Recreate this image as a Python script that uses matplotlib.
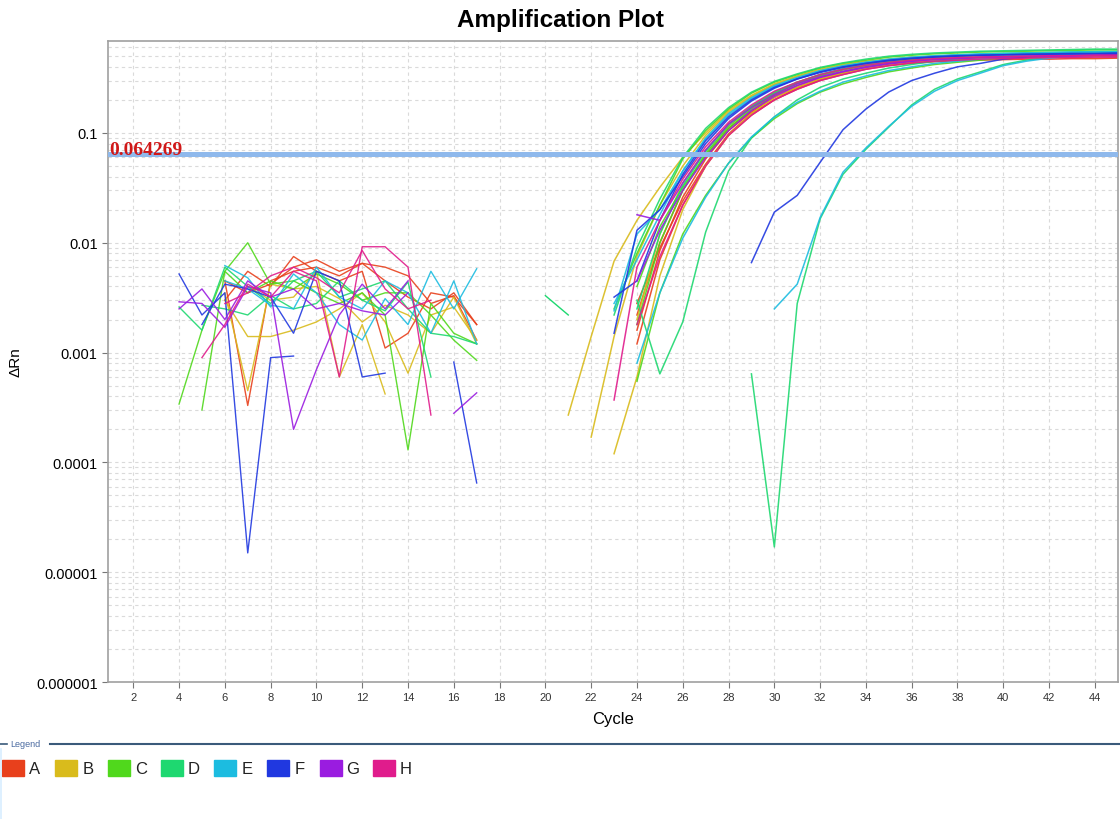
import numpy as np
import matplotlib.pyplot as plt
from matplotlib.lines import Line2D
from matplotlib.patches import Rectangle
from matplotlib.ticker import FixedLocator, LogLocator, NullFormatter

plt.rcParams['font.family'] = ['Liberation Sans', 'DejaVu Sans']

n = np.nan

# well groups (legend)
groups = ['A', 'B', 'C', 'D', 'E', 'F', 'G', 'H']
group_colors = ['#e8401c', '#d9bb1c', '#50d81c', '#1ed870', '#1cbce0', '#2038e0', '#9a1ce0', '#e01c8c']

# baseline region, cycles 4..17
base_cycles = list(range(4, 18))
base_A = [
    [n, n, 0.0045, 0.00033, 0.0045, 0.0055, 0.006, 0.005, 0.0065, 0.0045, 0.0032, 0.0025, 0.0035, 0.0018],
    [n, n, 0.003, 0.0055, 0.004, 0.0075, 0.0055, 0.0045, 0.0055, 0.0011, 0.0015, 0.0035, 0.0032, 0.0018],
    [n, n, 0.0045, 0.0035, 0.0042, 0.006, 0.007, 0.0055, 0.0065, 0.006, 0.005, 0.0028, 0.0033, 0.0013],
]
base_B = [
    [n, n, 0.0035, 0.00045, 0.0042, 0.0038, 0.004, 0.0031, 0.0019, 0.0027, 0.0022, 0.0015, 0.0032, 0.0012],
    [n, n, 0.003, 0.0014, 0.0014, 0.0016, 0.0019, 0.0025, 0.0035, 0.0019, 0.00065, 0.0022, 0.0026, 0.0013],
    [n, n, n, 0.004, 0.003, 0.0032, 0.0055, 0.0006, 0.0018, 0.00042, n, n, n, n],
]
base_C = [
    [0.00034, 0.0016, 0.0055, 0.01, 0.0042, 0.0045, 0.0035, 0.0028, 0.0035, 0.0022, 0.00013, 0.0028, 0.0015, 0.0012],
    [n, 0.0003, 0.0055, 0.0035, 0.0045, 0.0038, 0.0052, 0.0042, 0.003, 0.0035, 0.0035, 0.0022, 0.0013, 0.00085],
]
base_D = [
    [0.0026, 0.0016, 0.006, 0.004, 0.0028, 0.0045, 0.0055, 0.0032, 0.0038, 0.0045, 0.0025, 0.0015, 0.0014, 0.0012],
    [n, 0.0027, 0.0025, 0.0022, 0.0033, 0.0025, 0.0028, 0.0045, 0.003, 0.0024, 0.0044, 0.0006, n, n],
]
base_E = [
    [n, n, 0.0062, 0.0048, 0.0026, 0.0052, 0.0035, 0.0018, 0.0013, 0.0031, 0.0018, 0.0055, 0.0025, 0.0058],
    [n, n, 0.0045, 0.0038, 0.0027, 0.0025, 0.006, 0.0032, 0.0025, 0.0045, 0.0035, 0.0015, 0.0045, 0.0012],
]
base_F = [
    [0.0052, 0.0022, 0.0035, 1.5e-5, 0.0009, 0.00093, n, n, n, n, n, n, n, n],
    [n, 0.0018, 0.0042, 0.0038, 0.0032, 0.0015, 0.0055, 0.0045, 0.0006, 0.00065, n, n, n, n],
    [n, n, n, n, n, n, n, n, n, n, n, n, 0.00082, 6.5e-5],
]
base_G = [
    [0.0029, 0.0028, 0.0017, 0.004, 0.0035, 0.0002, 0.0007, 0.0022, 0.0042, 0.0025, 0.0045, n, 0.00028, 0.00043],
    [0.0025, 0.0038, 0.002, 0.0045, 0.0032, 0.0038, 0.0025, 0.0028, 0.0024, 0.0022, 0.0035, n, n, n],
]
base_H = [
    [n, 0.0009, 0.0018, 0.0042, 0.0032, 0.0055, 0.0045, 0.0006, 0.0092, 0.0092, 0.006, 0.00027, n, n],
    [n, n, 0.0028, 0.0035, 0.005, 0.006, 0.0048, 0.0035, 0.0085, 0.0038, 0.0025, 0.003, n, n],
]

# stray D segment
stray_cycles = [20, 21]
stray_D = [0.0033, 0.0022]

# amplification region, cycles 21..45
amp_cycles = list(range(21, 46))
amp_A = [
    [n, n, n, 0.0012, 0.007, 0.022, 0.05, 0.095, 0.145, 0.20, 0.25, 0.30, 0.34, 0.38, 0.41, 0.43, 0.445, 0.455, 0.46, 0.465, 0.47, 0.47, 0.475, 0.475, 0.48],
    [n, n, n, 0.0016, 0.0085, 0.026, 0.058, 0.105, 0.155, 0.21, 0.26, 0.31, 0.35, 0.39, 0.42, 0.44, 0.455, 0.465, 0.475, 0.48, 0.485, 0.49, 0.49, 0.495, 0.495],
    [n, n, n, 0.0022, 0.01, 0.03, 0.062, 0.11, 0.16, 0.22, 0.27, 0.32, 0.36, 0.40, 0.43, 0.45, 0.47, 0.48, 0.49, 0.495, 0.50, 0.505, 0.51, 0.51, 0.51],
    [n, n, n, 0.0028, 0.009, 0.024, 0.052, 0.098, 0.15, 0.20, 0.255, 0.305, 0.35, 0.385, 0.415, 0.44, 0.46, 0.47, 0.48, 0.49, 0.495, 0.50, 0.50, 0.505, 0.505],
]
amp_B = [
    [0.00027, 0.0014, 0.0068, 0.016, 0.032, 0.06, 0.10, 0.16, 0.22, 0.28, 0.33, 0.38, 0.42, 0.45, 0.47, 0.49, 0.50, 0.51, 0.515, 0.52, 0.525, 0.53, 0.53, 0.535, 0.535],
    [n, 0.00017, 0.0014, 0.0075, 0.022, 0.05, 0.095, 0.155, 0.215, 0.275, 0.325, 0.37, 0.41, 0.44, 0.465, 0.485, 0.50, 0.51, 0.515, 0.52, 0.525, 0.53, 0.53, 0.535, 0.54],
    [n, n, 0.00012, 0.0006, 0.005, 0.02, 0.05, 0.095, 0.15, 0.21, 0.26, 0.31, 0.35, 0.39, 0.42, 0.44, 0.46, 0.47, 0.48, 0.49, 0.495, 0.50, 0.50, 0.505, 0.505],
    [n, n, n, 0.002, 0.012, 0.035, 0.07, 0.12, 0.175, 0.235, 0.29, 0.34, 0.38, 0.41, 0.44, 0.46, 0.475, 0.485, 0.49, 0.495, 0.50, 0.50, 0.505, 0.505, 0.51],
]
amp_C = [
    [n, n, 0.0025, 0.008, 0.022, 0.058, 0.105, 0.165, 0.23, 0.29, 0.34, 0.39, 0.43, 0.46, 0.49, 0.51, 0.525, 0.535, 0.545, 0.55, 0.555, 0.56, 0.565, 0.57, 0.57],
    [n, n, n, 0.0018, 0.01, 0.03, 0.065, 0.115, 0.17, 0.23, 0.285, 0.335, 0.38, 0.42, 0.45, 0.47, 0.49, 0.50, 0.51, 0.52, 0.53, 0.535, 0.54, 0.545, 0.55],
    [n, n, n, 0.00055, 0.0035, 0.012, 0.027, 0.053, 0.09, 0.135, 0.185, 0.235, 0.28, 0.32, 0.36, 0.39, 0.42, 0.44, 0.46, 0.48, 0.49, 0.50, 0.51, 0.52, 0.525],
    [n, n, n, 0.004, 0.014, 0.032, 0.062, 0.11, 0.165, 0.225, 0.28, 0.33, 0.375, 0.41, 0.44, 0.465, 0.485, 0.50, 0.51, 0.52, 0.525, 0.53, 0.535, 0.54, 0.545],
]
amp_D = [
    [n, n, n, 0.003, 0.00064, 0.0019, 0.0125, 0.045, 0.09, 0.14, 0.20, 0.26, 0.31, 0.35, 0.39, 0.42, 0.45, 0.47, 0.49, 0.50, 0.51, 0.52, 0.53, 0.54, 0.54],
    [n, n, n, n, n, n, n, n, 0.00064, 1.7e-5, 0.0028, 0.0165, 0.042, 0.071, 0.113, 0.18, 0.25, 0.31, 0.36, 0.42, 0.46, 0.49, 0.51, 0.52, 0.53],
    [n, n, 0.0022, 0.009, 0.025, 0.06, 0.11, 0.17, 0.235, 0.295, 0.345, 0.395, 0.435, 0.47, 0.50, 0.52, 0.535, 0.545, 0.555, 0.56, 0.565, 0.57, 0.575, 0.58, 0.58],
    [n, n, n, 0.0025, 0.012, 0.033, 0.068, 0.12, 0.175, 0.235, 0.29, 0.34, 0.385, 0.42, 0.45, 0.475, 0.495, 0.51, 0.52, 0.53, 0.535, 0.54, 0.545, 0.55, 0.55],
]
amp_E = [
    [n, n, n, n, n, n, n, n, n, 0.0025, 0.0042, 0.017, 0.044, 0.073, 0.115, 0.175, 0.24, 0.30, 0.35, 0.41, 0.45, 0.48, 0.50, 0.52, 0.53],
    [n, n, 0.0024, 0.012, 0.02, 0.045, 0.09, 0.15, 0.21, 0.27, 0.32, 0.37, 0.41, 0.44, 0.47, 0.49, 0.505, 0.515, 0.525, 0.53, 0.535, 0.54, 0.545, 0.55, 0.55],
    [n, n, n, 0.0008, 0.0035, 0.011, 0.026, 0.053, 0.092, 0.14, 0.19, 0.24, 0.29, 0.33, 0.37, 0.40, 0.43, 0.45, 0.47, 0.49, 0.50, 0.51, 0.52, 0.525, 0.53],
    [n, n, 0.0028, 0.007, 0.018, 0.045, 0.088, 0.145, 0.205, 0.265, 0.315, 0.365, 0.405, 0.44, 0.465, 0.485, 0.50, 0.51, 0.52, 0.525, 0.53, 0.535, 0.54, 0.54, 0.545],
]
amp_F = [
    [n, n, n, n, n, n, n, n, 0.0066, 0.019, 0.027, 0.054, 0.107, 0.165, 0.236, 0.30, 0.35, 0.40, 0.43, 0.47, 0.49, 0.50, 0.51, 0.51, 0.52],
    [n, n, 0.0015, 0.013, 0.02, 0.04, 0.08, 0.135, 0.195, 0.255, 0.31, 0.36, 0.40, 0.43, 0.46, 0.48, 0.495, 0.505, 0.51, 0.515, 0.52, 0.525, 0.53, 0.53, 0.535],
    [n, n, 0.0032, 0.0045, 0.016, 0.042, 0.085, 0.14, 0.20, 0.26, 0.31, 0.355, 0.395, 0.43, 0.455, 0.475, 0.49, 0.50, 0.51, 0.515, 0.52, 0.52, 0.525, 0.525, 0.53],
]
amp_G = [
    [n, n, n, 0.0045, 0.013, 0.03, 0.06, 0.105, 0.16, 0.215, 0.27, 0.32, 0.36, 0.395, 0.425, 0.45, 0.465, 0.475, 0.485, 0.49, 0.495, 0.50, 0.50, 0.505, 0.505],
    [n, n, n, 0.018, 0.016, 0.035, 0.07, 0.12, 0.17, 0.225, 0.28, 0.325, 0.365, 0.40, 0.43, 0.45, 0.47, 0.48, 0.49, 0.495, 0.50, 0.50, 0.505, 0.51, 0.51],
]
amp_H = [
    [n, n, 0.00037, 0.006, 0.016, 0.038, 0.075, 0.125, 0.18, 0.24, 0.29, 0.34, 0.38, 0.415, 0.44, 0.46, 0.475, 0.485, 0.49, 0.495, 0.50, 0.505, 0.505, 0.51, 0.51],
    [n, n, n, 0.0018, 0.0075, 0.022, 0.05, 0.095, 0.145, 0.20, 0.25, 0.30, 0.34, 0.38, 0.41, 0.435, 0.45, 0.46, 0.47, 0.475, 0.48, 0.485, 0.485, 0.49, 0.49],
]

threshold = 0.064269
y_ticks = [1e-6, 1e-5, 1e-4, 1e-3, 1e-2, 1e-1]
y_tick_labels = ['0.000001', '0.00001', '0.0001', '0.001', '0.01', '0.1']
x_ticks = list(range(2, 46, 2))

base_sets = [base_A, base_B, base_C, base_D, base_E, base_F, base_G, base_H]
amp_sets = [amp_A, amp_B, amp_C, amp_D, amp_E, amp_F, amp_G, amp_H]

fig = plt.figure(figsize=(11.2, 8.2), dpi=100)
ax = fig.add_axes([0.0965, 0.167, 0.9015, 0.782])

for color, curves in zip(group_colors, base_sets):
    for vals in curves:
        ax.plot(base_cycles, vals, color=color, lw=1.0, alpha=0.9)
for color, curves in zip(group_colors, amp_sets):
    for vals in curves:
        ax.plot(amp_cycles, vals, color=color, lw=1.1, alpha=0.9)
ax.plot(stray_cycles, stray_D, color=group_colors[3], lw=1.0)

ax.axhline(threshold, color='#8fb9ec', lw=3.6, zorder=5)
ax.text(0.95, threshold, f'{threshold:.6f}', color='#d01818', fontsize=14,
        fontweight='bold', family=['Liberation Serif', 'DejaVu Serif'],
        va='baseline', ha='left', zorder=6)

ax.set_yscale('log')
ax.set_ylim(1e-6, 0.69)
ax.set_xlim(0.9, 45)
ax.yaxis.set_major_locator(FixedLocator(y_ticks))
ax.set_yticklabels(y_tick_labels, fontsize=10.5)
ax.yaxis.set_minor_locator(LogLocator(base=10, subs=np.arange(2, 10), numticks=20))
ax.yaxis.set_minor_formatter(NullFormatter())
ax.set_xticks(x_ticks)
ax.set_xticklabels([str(t) for t in x_ticks], fontsize=8, color='#333333')
ax.tick_params(axis='y', which='minor', length=0)
ax.tick_params(axis='both', which='major', length=4, color='#777777')

ax.grid(True, which='major', axis='x', color='#dadada', ls=(0, (3, 3)), lw=0.8)
ax.grid(True, which='both', axis='y', color='#dadada', ls=(0, (3, 3)), lw=0.8)
ax.set_axisbelow(True)
for sp in ax.spines.values():
    sp.set_color('#a0a0a0')
    sp.set_linewidth(1.2)

fig.text(0.5, 1 - 20 / 820, 'Amplification Plot', fontsize=17.5, fontweight='bold',
         ha='center', va='center')
ax.set_xlabel('Cycle', fontsize=12, labelpad=6)
ax.set_ylabel('ΔRn', fontsize=11, labelpad=10)

# legend box at the bottom
fig.add_artist(Line2D([0.0, 0.006], [0.0915, 0.0915], color='#3a5a7a', lw=1.2))
fig.add_artist(Line2D([0.045, 1.0], [0.0915, 0.0915], color='#3a5a7a', lw=1.5))
fig.text(0.0095, 0.0915, 'Legend', fontsize=6.5, color='#4a6aa0', va='center')
fig.add_artist(Line2D([0.0012, 0.0012], [0.0, 0.085], color='#d8eeff', lw=1.2))
for i, (g, c) in enumerate(zip(groups, group_colors)):
    x0 = (2 + i * 53.0) / 1120
    fig.add_artist(Rectangle((x0, 0.0525), 22 / 1120, 16 / 820, color=c,
                             transform=fig.transFigure))
    fig.text(x0 + 33 / 1120, 0.0615, g, fontsize=12, ha='center', va='center', color='#222222')

fig.savefig('out.png', dpi=100, facecolor='white')
